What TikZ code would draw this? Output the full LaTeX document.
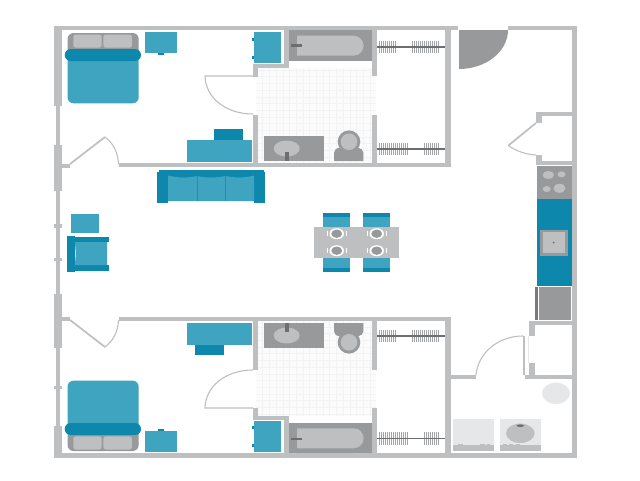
\documentclass[tikz,border=0pt]{standalone}
\definecolor{wallc}{HTML}{BEBFC1}
\definecolor{midc}{HTML}{98999B}
\definecolor{darkc}{HTML}{6D6E71}
\definecolor{lightc}{HTML}{E6E7E8}
\definecolor{tealc}{HTML}{3EA4BF}
\definecolor{deepc}{HTML}{0E87AC}
\definecolor{tilebg}{HTML}{FBFBFB}
\definecolor{tileln}{HTML}{F3F3F4}
\tikzset{
  wall/.style={fill=wallc,draw=none},
  mid/.style={fill=midc,draw=none},
  soft/.style={fill=wallc,draw=none},
  teal/.style={fill=tealc,draw=none},
  deep/.style={fill=deepc,draw=none},
  doorline/.style={draw=wallc,line width=1.1pt,fill=none},
  doorleaf/.style={draw=wallc,line width=1.7pt,fill=none},
  rod/.style={draw=darkc,line width=1.6pt},
  hanger/.style={draw=midc!70!wallc,line width=.7pt},
}
% one bedroom wing, drawn in the coordinates of the upper one
\newcommand{\wing}[1]{%
  % tiles
  \fill[tilebg] (256,68) rectangle (376,164);
  \foreach \tx in {262.7,269.4,...,376}{\draw[tileln,line width=.5pt] (\tx,68) -- (\tx,163);}
  \foreach \ty in {70,76.7,...,163}{\draw[tileln,line width=.5pt] (256,\ty) -- (376,\ty);}
  % walls
  \fill[wall] (119,163.3) rectangle (450.5,167.3);
  \fill[wall] (62,163.5) rectangle (70,167.5);
  \fill[wall] (445,30) rectangle (450.5,167);
  \fill[wall] (371.7,30) rectangle (376.7,76);
  \fill[wall] (371.7,114.5) rectangle (376.7,164);
  \fill[wall] (253.3,114.5) rectangle (258,164);
  \fill[wall] (253,64.3) rectangle (288.5,68.3);
  \fill[wall] (284,30) rectangle (288.5,68);
  \fill[wall] (253.3,64.3) rectangle (258,76.5);
  % bedroom door on the bath side
  \draw[doorline] (253,76) -- (205,76) .. controls (205.5,98) and (226,114) .. (253,114);
  % room door
  \draw[doorleaf] (70,164) -- (105,137);
  \draw[doorline] (105,137) .. controls (113,143) and (118,152) .. (118.5,164);
  % bed
  \fill[mid,rounded corners=6pt] (67.5,33) rectangle (138.7,62);
  \fill[soft,rounded corners=2.5pt] (73.3,34.5) rectangle (101.7,47.7);
  \fill[soft,rounded corners=2.5pt] (103.3,34.5) rectangle (132,47.7);
  \fill[teal,rounded corners=6pt] (67.5,52) rectangle (138.7,103.3);
  \fill[deep,rounded corners=6pt] (64.7,49) rectangle (141,61);
  % night stand
  \fill[teal] (145,32.3) rectangle (177,53.3);
  \fill[deep] (158,53.3) rectangle (164,55);
  % wardrobe
  \fill[teal] (253.5,32.3) rectangle (280.7,63.3);
  \fill[deep] (251.7,37.5) rectangle (253.5,40.5);
  \fill[deep] (251.7,55.5) rectangle (253.5,58.5);
  % tub
  \fill[mid] (288.5,30) rectangle (371.7,61.3);
  \fill[soft] (297,35.7) -- (353.6,35.7) .. controls (360,35.7) and (363.6,41) .. (363.6,45.7)
     .. controls (363.6,50.4) and (360,55.7) .. (353.6,55.7) -- (297,55.7) -- cycle;
  \fill[darkc] (290.5,44) rectangle (302,46.5);
  % sink
  \fill[mid] (264,136.3) rectangle (324,161);
  \fill[soft] (286.7,148.5) ellipse (13 and 8);
  \fill[darkc] (285.2,152) rectangle (288.5,161);
  % toilet
  \fill[mid] (334,161) -- (334,152.5) .. controls (334.5,149.5) and (336.5,148) .. (339,147.7)
     -- (358,147.7) .. controls (361,148) and (363,150) .. (363.3,152.5) -- (363.3,161) -- cycle;
  \fill[mid] (349,141.7) circle (11.3);
  \fill[soft] (349,141.7) circle (8.3);
  % desk
  \fill[teal] (186.7,139.5) rectangle (251.7,161.5);
  \fill[deep] (#1,129) rectangle (#1+29,139.5);
}
\begin{document}
\begin{tikzpicture}[x=1pt,y=-1pt]
\useasboundingbox (0,0) rectangle (640,480);
\fill[white] (0,0) rectangle (640,480);

\wing{214}
\begin{scope}[shift={(0,484)},yscale=-1]
\wing{195}
\end{scope}

% outer walls
\fill[wall] (54,26) rectangle (458,30.3);
\fill[wall] (508,26) rectangle (577,30.3);
\fill[wall] (572,26) rectangle (577,457.6);
\fill[wall] (54,453.4) rectangle (577,457.6);
% left wall
\fill[wall] (54,26) rectangle (61.7,106);
\fill[wall] (56,106) rectangle (59.5,426);
\fill[wall] (54,145) rectangle (61.7,191);
\fill[wall] (54,294) rectangle (61.7,348);
\fill[wall] (54,426) rectangle (61.7,457.6);
\fill[wall] (54,224) rectangle (62,227.5);
\fill[wall] (54,257.5) rectangle (62,261);
\fill[wall] (54,385.5) rectangle (62,389);

% entrance door
\fill[mid] (459,30) -- (508,30) .. controls (508,51.5) and (486,69) .. (459,69) -- cycle;

% upper closet by the entrance
\fill[wall] (535.7,112.3) rectangle (572,116.3);
\fill[wall] (535.7,112.3) rectangle (541.5,122.7);
\fill[wall] (535.7,155) rectangle (541.5,164.7);
\fill[wall] (535.7,160.7) rectangle (572,164.7);
\draw[doorleaf] (536,123) -- (508.3,145.5);
\draw[doorline] (508.3,145.5) .. controls (516,151) and (526,154.5) .. (536,155);

% kitchen
\fill[mid] (537,166) rectangle (571.7,199);
\fill[soft] (548.3,175) ellipse (5.7 and 4);
\fill[soft] (561.5,174.3) ellipse (4 and 3);
\fill[soft] (546.7,189) ellipse (4 and 3);
\fill[soft] (559.5,188.3) ellipse (6 and 4.5);
\fill[deep] (537,199) rectangle (572,286);
\fill[mid] (540,229.7) rectangle (567.5,255.7);
\fill[soft] (542.5,232) rectangle (565,253.2);
\fill[darkc] (553.5,242.5) circle (1);
\fill[mid] (539,287) rectangle (571,319.7);
\fill[midc!80!black] (535,287) rectangle (538,319.5);

% lower closet and service room
\fill[wall] (529.3,320.7) rectangle (572,325);
\fill[wall] (529.3,320.7) rectangle (535,335.7);
\fill[wall] (529.3,363.3) rectangle (535,379);
\draw[lightc,line width=1pt] (528.7,335.7) -- (528.7,363.3);
\fill[wall] (450,375) rectangle (476,379);
\fill[wall] (525,375) rectangle (572,379);
\fill[wall] (522.7,336) rectangle (525,375);
\draw[doorline] (476,375) .. controls (478,353) and (498,336) .. (523,336);

% laundry
\fill[lightc] (556,393.3) ellipse (14 and 10.7);
\fill[lightc] (453.3,419) rectangle (494.3,451);
\fill[soft] (453.3,445) rectangle (494.3,451);
\fill[soft] (458,444) rectangle (463,446);
\fill[soft] (480,444) rectangle (485,446);
\fill[soft] (486.5,444) rectangle (490,446);
\fill[lightc] (500,419) rectangle (541,451);
\fill[soft] (500,445) rectangle (541,451);
\fill[soft] (503,444) rectangle (507,446);
\fill[soft] (509,444) rectangle (513,446);
\fill[soft] (516,444) rectangle (520,446);
\fill[soft] (520.3,433.3) ellipse (14.3 and 9.7);
\fill[darkc] (520.3,425.7) ellipse (3.7 and 1.3);

% closet rods
\foreach \ry/\xa/\xb/\xc/\xd in {46.7/379.3/396/412.8/440.7, 149/379.3/407.7/424.8/440.7,
                                 336/379.3/396/412.8/440.7, 438.3/379.3/407.7/424.8/440.7}{
  \pgfmathsetmacro{\rya}{\ry-6.2}
  \pgfmathsetmacro{\ryb}{\ry+6.2}
  \pgfmathsetmacro{\xam}{\xa+2}
  \foreach \hx in {\xa,\xam,...,\xb}{\draw[hanger] (\hx,\rya) -- (\hx,\ryb);}
  \pgfmathsetmacro{\xcm}{\xc+2}
  \foreach \hx in {\xc,\xcm,...,\xd}{\draw[hanger] (\hx,\rya) -- (\hx,\ryb);}
  \draw[rod] (377,\ry) -- (445,\ry);
}

% sofa
\fill[deep] (157.3,172) rectangle (168,203);
\fill[deep] (254,172) rectangle (265,203);
\fill[deep] (159,170) rectangle (264,178);
\fill[teal] (168,175.5) .. controls (178,178) and (188,178) .. (197,176)
   .. controls (206,178) and (216,178) .. (225.7,176)
   .. controls (235,178) and (245,178) .. (254,175.5) -- (254,201) -- (168,201) -- cycle;
\draw[deep,draw=deepc!70!tealc,line width=.6pt] (197,176) -- (197,201);
\draw[deep,draw=deepc!70!tealc,line width=.6pt] (225.7,176) -- (225.7,201);

% side table and armchair
\fill[teal] (71.3,214.3) rectangle (98.7,233);
\fill[deep] (66.7,235.7) rectangle (74.7,271.7);
\fill[deep] (74,237) rectangle (108.7,242);
\fill[deep] (74,265) rectangle (108.7,270.5);
\fill[teal] (74.7,242) .. controls (76,250) and (76,257) .. (74.7,265) -- (107,265) -- (107,242) -- cycle;

% dining table
\foreach \cx in {323.3,363.3}{
  \fill[teal] (\cx,212.7) rectangle (\cx+27,226.7);
  \fill[deep] (\cx,212.7) rectangle (\cx+27,216.7);
  \fill[teal] (\cx,257.7) rectangle (\cx+27,271.7);
  \fill[deep] (\cx,267.7) rectangle (\cx+27,271.7);
}
\fill[soft] (314.3,226.7) rectangle (399.3,257.7);
\foreach \px in {336.7,376.7}{\foreach \py in {233.7,250.7}{
  \fill[white] (\px,\py) ellipse (7.3 and 5.5);
  \fill[mid] (\px,\py) ellipse (5.4 and 4.2);
  \draw[white,line width=.6pt] (\px-9.5,\py-2.5) -- (\px-9.5,\py+2.5);
  \draw[white,line width=.6pt] (\px+9.5,\py-2.5) -- (\px+9.5,\py+2.5);
}}
\end{tikzpicture}
\end{document}
